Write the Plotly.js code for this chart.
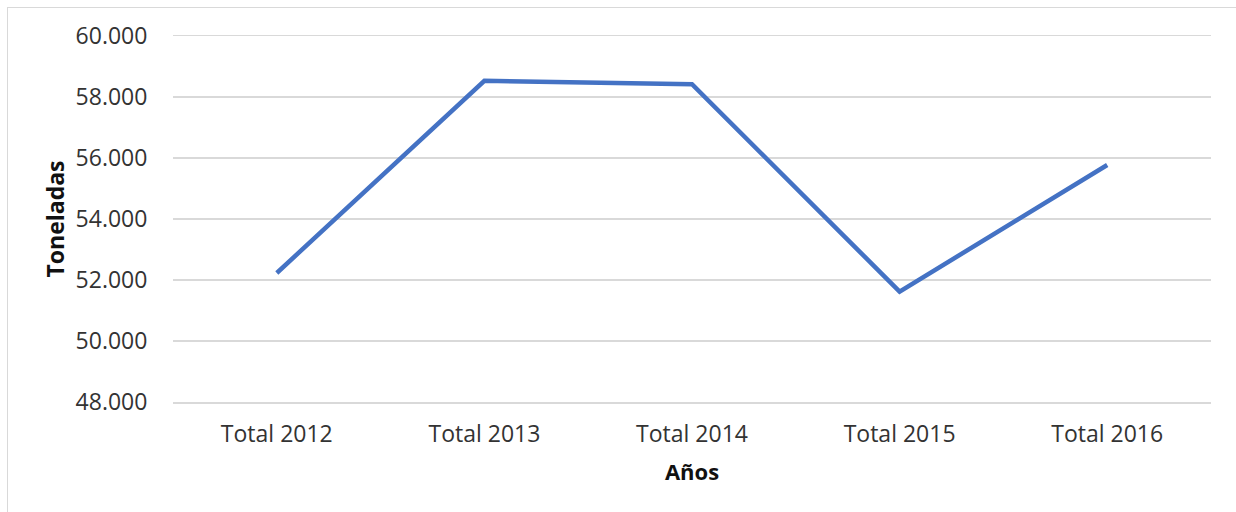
<!DOCTYPE html>
<html>
<head>
<meta charset="utf-8">
<script src="https://cdn.plot.ly/plotly-3.0.1.min.js"></script>
<style>
html,body{margin:0;padding:0;background:#fff;overflow:hidden;}
#wrap{position:relative;width:1236px;height:512px;}
#frame{position:absolute;left:7px;top:7px;width:1400px;height:700px;border-left:1.5px solid #d9d9d9;border-top:1.5px solid #d9d9d9;pointer-events:none;}
#chart{position:absolute;left:0;top:0;width:1236px;height:512px;}
</style>
</head>
<body>
<div id="wrap"><div id="chart"></div><div id="frame"></div></div>
<script>
const categories = ["Total 2012", "Total 2013", "Total 2014", "Total 2015", "Total 2016"];
const toneladas = [52230, 58530, 58420, 51620, 55770];
const yTickVals = [48000, 50000, 52000, 54000, 56000, 58000, 60000];
const yTickText = ["48.000", "50.000", "52.000", "54.000", "56.000", "58.000", "60.000"];
const xTitle = "Años";
const yTitle = "Toneladas";

const trace = {
  type: "scatter",
  mode: "lines",
  x: categories,
  y: toneladas,
  line: {color: "#4472C4", width: 4.5},
  hoverinfo: "x+y"
};

const layout = {
  width: 1236,
  height: 512,
  margin: {l: 173, r: 25, t: 36, b: 110},
  paper_bgcolor: "rgba(0,0,0,0)",
  plot_bgcolor: "#fff",
  showlegend: false,
  font: {family: "Open Sans, sans-serif", size: 23, color: "#333"},
  xaxis: {
    type: "category",
    range: [-0.5, 4.5],
    showgrid: false,
    zeroline: false,
    showline: true,
    mirror: true,
    linecolor: "#d9d9d9",
    linewidth: 1.5,
    ticks: "outside",
    ticklen: 11,
    tickcolor: "rgba(0,0,0,0)",
    tickfont: {family: "Open Sans, sans-serif", size: 23, color: "#333"},
    title: {text: xTitle, font: {family: "Open Sans, sans-serif", size: 22, color: "#111", weight: "bold"}, standoff: 16}
  },
  yaxis: {
    range: [48000, 60000],
    tickvals: yTickVals,
    ticktext: yTickText,
    showgrid: true,
    gridcolor: "#d9d9d9",
    gridwidth: 1.5,
    zeroline: false,
    showline: false,
    ticks: "outside",
    ticklen: 20,
    tickcolor: "rgba(0,0,0,0)",
    tickfont: {family: "Open Sans, sans-serif", size: 23, color: "#333"},
    title: {text: yTitle, font: {family: "Open Sans, sans-serif", size: 23, color: "#111", weight: "bold"}, standoff: 4}
  }
};

Plotly.newPlot("chart", [trace], layout, {displayModeBar: false, staticPlot: true});
</script>
</body>
</html>
